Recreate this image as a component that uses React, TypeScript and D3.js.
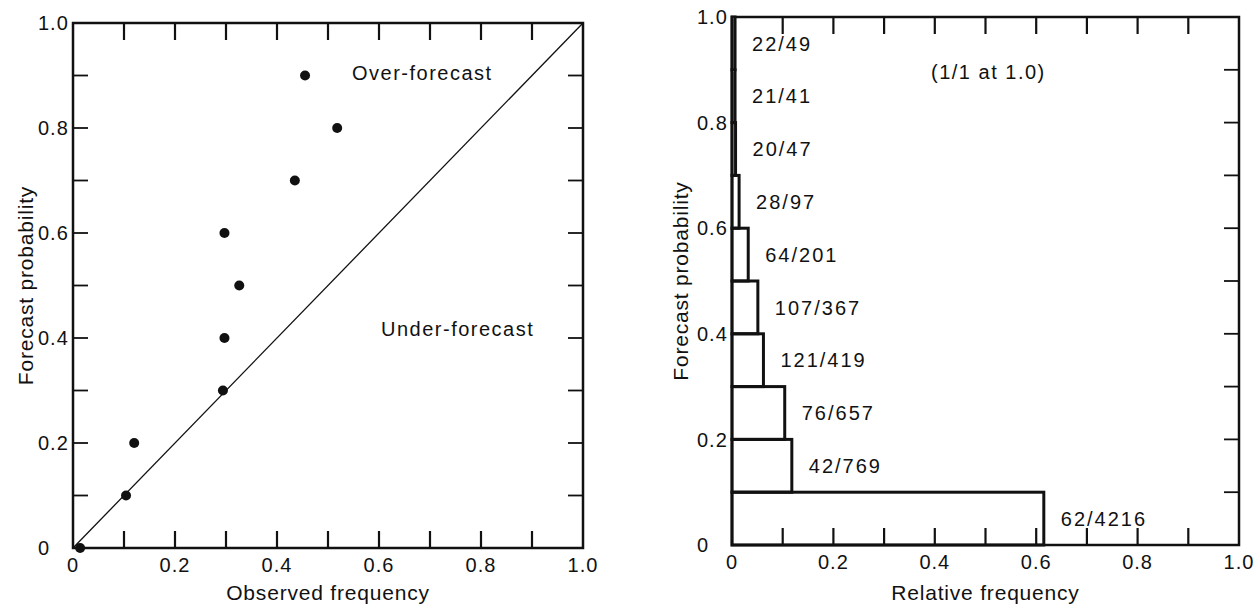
import React, { useEffect, useRef } from 'react';
import * as d3 from 'd3';

// forecast probability categories and the observed frequency for each
const forecastProbs = [0, 0.1, 0.2, 0.3, 0.4, 0.5, 0.6, 0.7, 0.8, 0.9];
const observedFreq = [0.014, 0.104, 0.12, 0.294, 0.297, 0.326, 0.297, 0.435, 0.518, 0.455];

// histogram of forecasts (right panel)
const binLow = [0, 0.1, 0.2, 0.3, 0.4, 0.5, 0.6, 0.7, 0.8, 0.9];
const binHigh = [0.1, 0.2, 0.3, 0.4, 0.5, 0.6, 0.7, 0.8, 0.9, 1.0];
const relFreq = [0.615, 0.118, 0.104, 0.062, 0.051, 0.032, 0.014, 0.007, 0.006, 0.006];
const binCounts = ['62/4216', '42/769', '76/657', '121/419', '107/367', '64/201', '28/97', '20/47', '21/41', '22/49'];

const tickValues = [0.1, 0.2, 0.3, 0.4, 0.5, 0.6, 0.7, 0.8, 0.9];
const labelValues = [0, 0.2, 0.4, 0.6, 0.8, 1.0];
const tickLabels = ['0', '0.2', '0.4', '0.6', '0.8', '1.0'];

const FONT = '"Liberation Sans", Arial, Helvetica, sans-serif';
const TICK = 17;

function drawFrame(svg: any, x: any, y: any, leftTicks: boolean, xTitle: string, titleX: number) {
  const [x0, x1] = x.range();
  const [y0, y1] = y.range(); // y0 bottom, y1 top

  const g = svg.append('g');
  // inward ticks along the top and bottom edges
  g.selectAll('line.tt').data(tickValues).join('line')
    .attr('class', 'tt')
    .attr('x1', (d: number) => x(d)).attr('x2', (d: number) => x(d))
    .attr('y1', y1).attr('y2', y1 + TICK)
    .attr('stroke', '#111').attr('stroke-width', 2.2);
  g.selectAll('line.tb').data(tickValues).join('line')
    .attr('class', 'tb')
    .attr('x1', (d: number) => x(d)).attr('x2', (d: number) => x(d))
    .attr('y1', y0).attr('y2', y0 - TICK)
    .attr('stroke', '#111').attr('stroke-width', 2.2);
  // horizontal ticks on the right side (and left side when wanted)
  g.selectAll('line.tr').data(tickValues).join('line')
    .attr('class', 'tr')
    .attr('y1', (d: number) => y(d)).attr('y2', (d: number) => y(d))
    .attr('x1', x1).attr('x2', x1 - 15)
    .attr('stroke', '#111').attr('stroke-width', 1.8);
  if (leftTicks) {
    g.selectAll('line.tl').data(tickValues).join('line')
      .attr('class', 'tl')
      .attr('y1', (d: number) => y(d)).attr('y2', (d: number) => y(d))
      .attr('x1', x0).attr('x2', x0 + 15)
      .attr('stroke', '#111').attr('stroke-width', 1.8);
  }

  const t = svg.append('g');
  // tick labels
  t.selectAll('text.xl').data(labelValues).join('text')
    .attr('class', 'xl')
    .attr('x', (d: number) => x(d))
    .attr('y', y0 + 24)
    .attr('text-anchor', 'middle')
    .attr('font-size', 20)
    .attr('letter-spacing', 1)
    .text((d: number, i: number) => tickLabels[i]);

  t.selectAll('text.yl').data(labelValues).join('text')
    .attr('class', 'yl')
    .attr('x', x0 - 35)
    .attr('y', (d: number) => y(d))
    .attr('dy', '0.36em')
    .attr('text-anchor', 'start')
    .attr('font-size', 20)
    .attr('letter-spacing', 1)
    .text((d: number, i: number) => tickLabels[i]);

  t.append('text')
    .attr('x', (x0 + x1) / 2)
    .attr('y', 600)
    .attr('text-anchor', 'middle')
    .attr('font-size', 21)
    .attr('letter-spacing', 0.8)
    .text(xTitle);

  t.append('text')
    .attr('transform', `translate(${titleX},${(y0 + y1) / 2}) rotate(-90)`)
    .attr('text-anchor', 'middle')
    .attr('font-size', 21)
    .attr('letter-spacing', 0.8)
    .text('Forecast probability');

  // frame
  svg.append('rect')
    .attr('x', x0).attr('y', y1)
    .attr('width', x1 - x0).attr('height', y0 - y1)
    .attr('fill', 'none').attr('stroke', '#111').attr('stroke-width', 2.5);
}

export default function App() {
  const ref = useRef<SVGSVGElement | null>(null);

  useEffect(() => {
    const svg = d3.select(ref.current);
    svg.selectAll('*').remove();
    svg.attr('font-family', FONT).attr('fill', '#111');

    // ---------- left panel: reliability diagram ----------
    const xL = d3.scaleLinear().domain([0, 1]).range([73, 583]);
    const yL = d3.scaleLinear().domain([0, 1]).range([548, 23]);

    svg.append('line')
      .attr('x1', xL(0)).attr('y1', yL(0))
      .attr('x2', xL(1)).attr('y2', yL(1))
      .attr('stroke', '#111').attr('stroke-width', 1.3);

    drawFrame(svg, xL, yL, true, 'Observed frequency', 33);

    svg.append('g').selectAll('circle')
      .data(forecastProbs)
      .join('circle')
      .attr('cx', (d: number, i: number) => xL(observedFreq[i]))
      .attr('cy', (d: number) => yL(d))
      .attr('r', 5)
      .attr('fill', '#111');

    svg.append('text').attr('x', 352).attr('y', 80)
      .attr('font-size', 20).attr('letter-spacing', 1.5).text('Over-forecast');
    svg.append('text').attr('x', 381).attr('y', 336)
      .attr('font-size', 20).attr('letter-spacing', 1.5).text('Under-forecast');

    // ---------- right panel: forecast histogram ----------
    const xR = d3.scaleLinear().domain([0, 1]).range([732, 1239]);
    const yR = d3.scaleLinear().domain([0, 1]).range([545, 17]);

    drawFrame(svg, xR, yR, false, 'Relative frequency', 688);

    svg.append('g').selectAll('rect')
      .data(binLow)
      .join('rect')
      .attr('x', xR(0))
      .attr('y', (d: number, i: number) => yR(binHigh[i]))
      .attr('width', (d: number, i: number) => xR(relFreq[i]) - xR(0))
      .attr('height', (d: number, i: number) => yR(d) - yR(binHigh[i]))
      .attr('fill', 'none')
      .attr('stroke', '#111')
      .attr('stroke-width', 3);

    svg.append('g').selectAll('text')
      .data(binLow)
      .join('text')
      .attr('x', (d: number, i: number) => xR(relFreq[i]) + 17)
      .attr('y', (d: number, i: number) => yR((d + binHigh[i]) / 2))
      .attr('dy', '0.36em')
      .attr('font-size', 20)
      .attr('letter-spacing', 2)
      .text((d: number, i: number) => binCounts[i]);

    svg.append('text').attr('x', 931).attr('y', 79)
      .attr('font-size', 20).attr('letter-spacing', 1.5).text('(1/1 at 1.0)');
  }, []);

  return (
    <svg ref={ref} width={1255} height={608}
      style={{ position: 'absolute', left: 0, top: 0, background: '#fff' }} />
  );
}
